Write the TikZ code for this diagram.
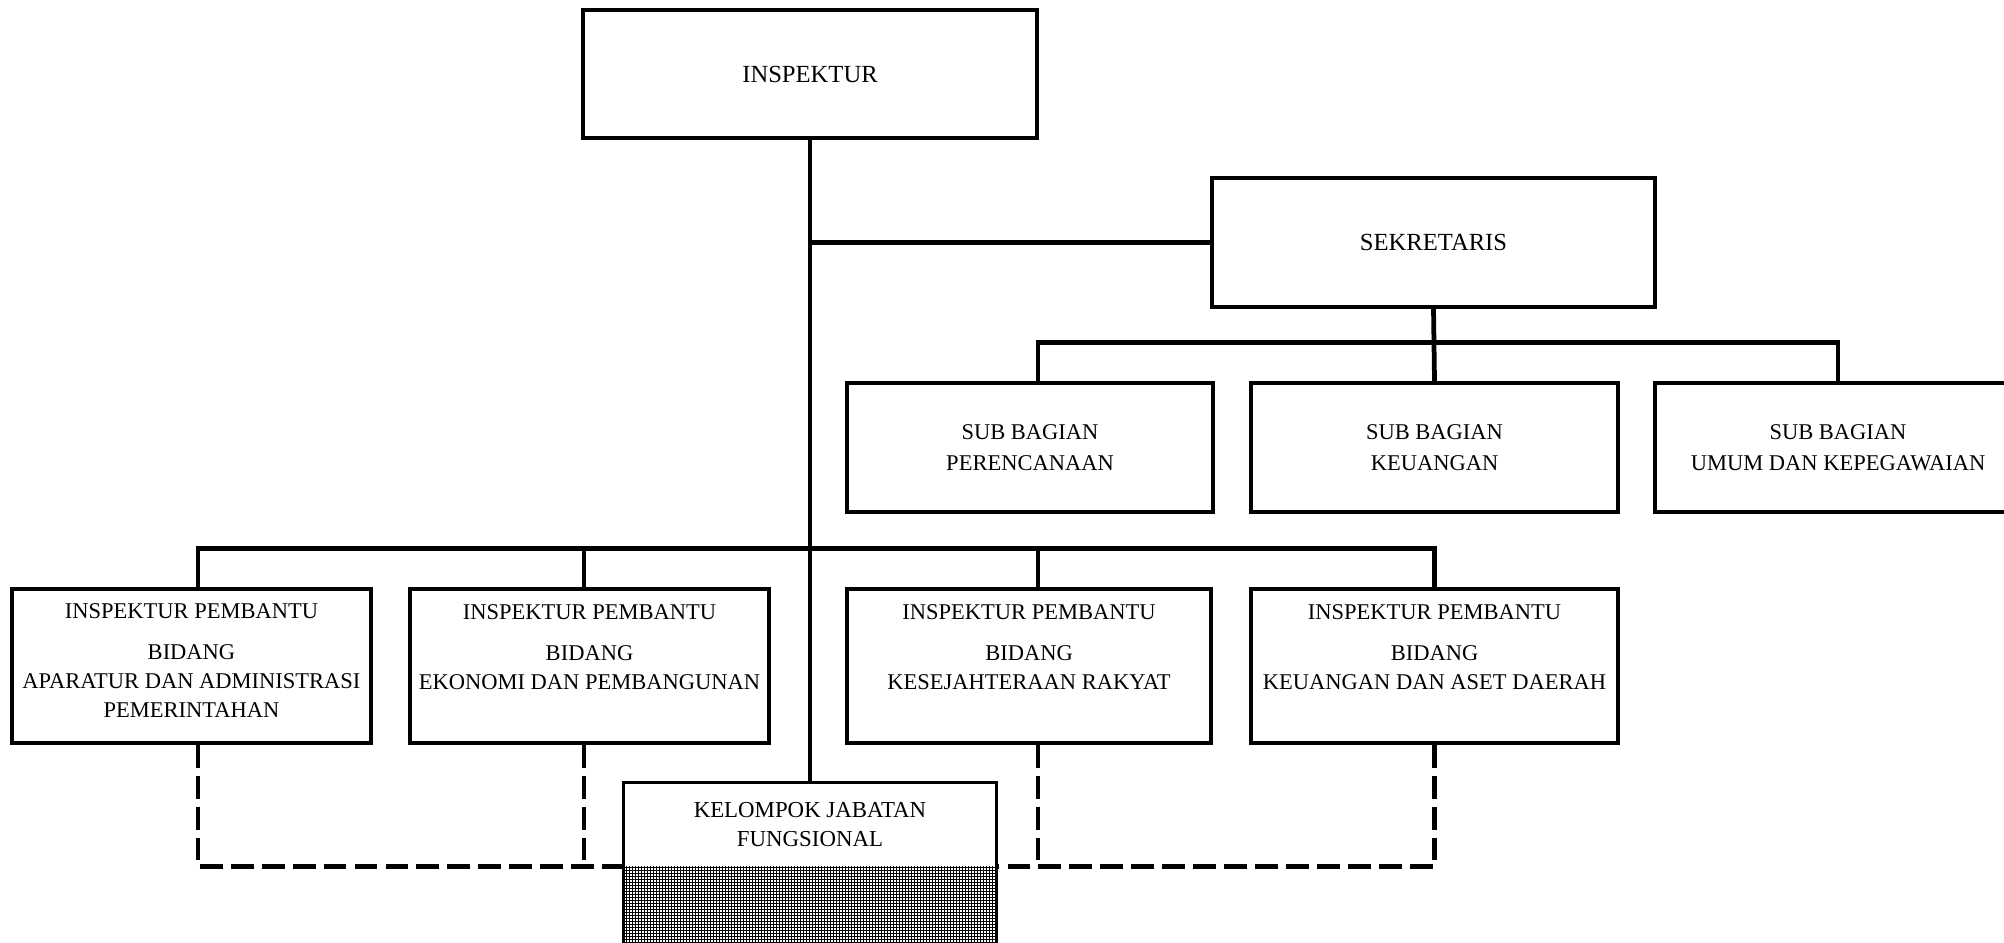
\documentclass[tikz,border=0pt]{standalone}
\usepackage{fontspec}
\setmainfont{Liberation Serif}
\usetikzlibrary{calc}
\begin{document}
\begin{tikzpicture}[x=0.01cm,y=-0.01cm,
  unit/.style={draw, line width=1pt, inner sep=0pt, align=center,
    font=\fontsize{6.4}{8.8}\selectfont},
  wh/.style 2 args={minimum width={#1*0.01cm}, minimum height={#2*0.01cm}},
  head/.style={font=\fontsize{7}{8.6}\selectfont},
  txt/.style={inner sep=0pt, align=center, font=\fontsize{6.4}{8.2}\selectfont},
  conn/.style={line width=1.35pt},
  dashline/.style={line width=1.3pt, dash pattern=on 6.5pt off 2.3pt},
  gridline/.style={line width=0.01cm},
]
\useasboundingbox (0,0) rectangle (2004,942);
\fill[white] (0,0) rectangle (2004,942);
\clip (0,0) rectangle (2004,942);

% top level
\node[unit, head, wh={454}{128}] (insp) at (810,74) {INSPEKTUR};
\node[unit, head, wh={443}{129}] (sek) at (1433.5,242.5) {SEKRETARIS};

% secretariat sub-units
\node[unit, wh={366}{129}] (sb1) at (1030,447.5) {SUB BAGIAN\\PERENCANAAN};
\node[unit, wh={367}{129}] (sb2) at (1434.5,447.5) {SUB BAGIAN\\KEUANGAN};
\node[unit, wh={366}{129}] (sb3) at (1838,447.5) {SUB BAGIAN\\UMUM DAN KEPEGAWAIAN};

% assistant inspectors
\node[unit, wh={359}{154}] (ip1) at (191.5,666) {};
\node[unit, wh={359}{154}] (ip2) at (589.5,666) {};
\node[unit, wh={364}{154}] (ip3) at (1029,666) {};
\node[unit, wh={367}{154}] (ip4) at (1434.5,666) {};
\node[txt] (t1) at ($(ip1.north)+(0,73)$)
  {INSPEKTUR PEMBANTU\\[3.5pt]BIDANG\\APARATUR DAN ADMINISTRASI\\PEMERINTAHAN};
\node[txt] (t2) at ($(ip2.north)+(0,59.5)$)
  {INSPEKTUR PEMBANTU\\[3.5pt]BIDANG\\EKONOMI DAN PEMBANGUNAN};
\node[txt] (t3) at ($(ip3.north)+(0,59.5)$)
  {INSPEKTUR PEMBANTU\\[3.5pt]BIDANG\\KESEJAHTERAAN RAKYAT};
\node[txt] (t4) at ($(ip4.north)+(0,59.5)$)
  {INSPEKTUR PEMBANTU\\[3.5pt]BIDANG\\KEUANGAN DAN ASET DAERAH};

% functional group: white head with the label, fine grid below
\node[txt, font=\fontsize{6.5}{8}\selectfont, wh={372}{83}] (kel) at (810,824.5)
  {KELOMPOK JABATAN\\FUNGSIONAL};
\foreach \gx in {626,629,...,996}
  \draw[gridline] (\gx,866) -- (\gx,950);
\foreach \gy in {867,870,...,945}
  \draw[gridline] (624,\gy) -- (996,\gy);
\draw[line width=1pt] ($(kel.south west)+(0,120)$) -- (kel.north west)
  -- (kel.north east) -- ($(kel.south east)+(0,120)$);

% solid lines of command
\draw[conn] (insp.south) -- (kel.north);
\draw[conn] (insp.south |- sek.west) -- (sek.west);
\draw[conn] (sek.south) -- (sb2.north);
\coordinate (sb1in) at ($(sb1.north)+(8,0)$);
\draw[conn] (sb1in) -- ++(0,-39) -| (sb3.north);

\coordinate (ip1in) at ($(ip1.north)+(6.5,0)$);
\coordinate (ip2in) at ($(ip2.north)+(-5.5,0)$);
\coordinate (ip3in) at ($(ip3.north)+(9,0)$);
\draw[conn] (ip1in) -- ++(0,-39) -| (ip4.north);
\draw[conn] (ip2in) -- ++(0,-39);
\draw[conn] (ip3in) -- ++(0,-39);

% dashed lines of coordination
\coordinate (ip1out) at ($(ip1.south)+(6.5,0)$);
\coordinate (ip2out) at ($(ip2.south)+(-5.5,0)$);
\coordinate (ip3out) at ($(ip3.south)+(9,0)$);
\draw[dashline] (ip1out) |- (kel.south west);
\draw[dashline] (ip2out) -- (ip2out |- kel.south);
\draw[dashline] (ip3out) -- (ip3out |- kel.south);
\draw[dashline] (ip4.south) |- (kel.south east);
\end{tikzpicture}
\end{document}
